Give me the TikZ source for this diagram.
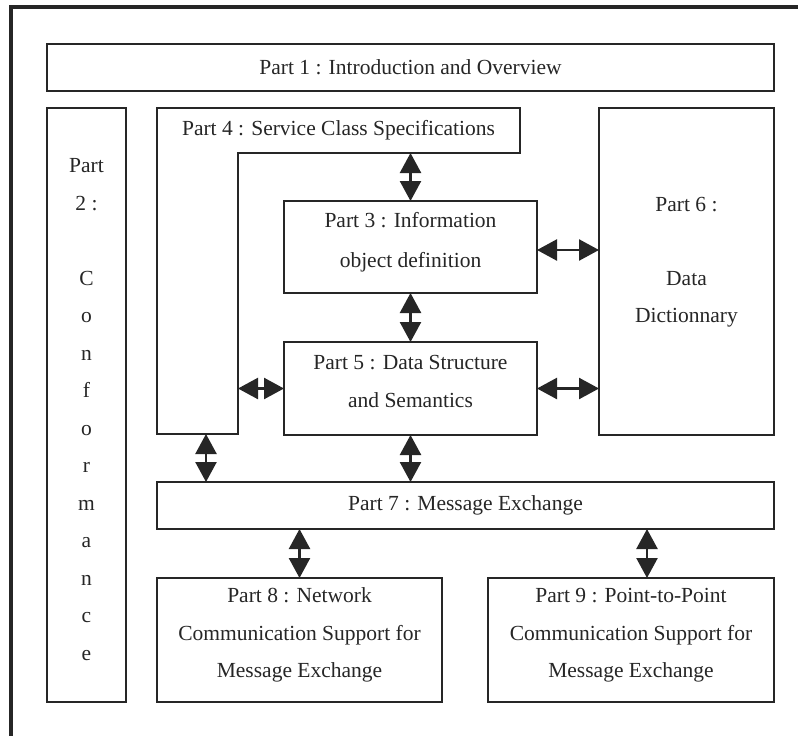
\documentclass[tikz,border=0pt]{standalone}
\usepackage{fontspec}
\setmainfont{Liberation Serif}
\usetikzlibrary{arrows.meta,calc}
\definecolor{ink}{HTML}{262626}
\newcommand{\tp}[1][20pt]{\rule{0pt}{#1}}
\newcommand{\bt}[1][20pt]{\rule[-#1]{0pt}{#1}}
\begin{document}
\begin{tikzpicture}[x=1pt,y=-1pt,
  txt/.style={text=ink, align=center, inner sep=0pt, font=\fontsize{21.5}{38}\selectfont},
  box/.style={txt, draw=ink, line width=1.6pt, outer sep=0pt},
  dbl/.style={draw=ink, line width=2.4pt,
    {Triangle[length=20pt,width=21pt]}-{Triangle[length=20pt,width=21pt]}},
  frame/.style={draw=ink, line width=4pt}]
\useasboundingbox (0,0) rectangle (798,736);
\fill[white] (0,0) rectangle (798,736);
% outer frame (right and bottom edges fall outside the picture)
\draw[frame] (10.5,740) -- (10.5,7) -- (802,7);

% boxes
\node[box, minimum width=727pt, minimum height=47pt] (p1) at (410.5,67.5)
  {Part 1 : Introduction and Overview};
\node[box, minimum width=79pt, minimum height=594pt,
  font=\fontsize{21.5}{37.5}\selectfont] (p2) at (86.5,405)
  {\tp[43pt]Part\\2 :\\~\\C\\o\\n\\f\\o\\r\\m\\a\\n\\c\\e\bt};
\node[box, minimum width=253pt, minimum height=92pt,
  font=\fontsize{21.5}{40}\selectfont] (p3) at (410.5,247)
  {\tp Part 3 : Information\\object definition\bt};
\node[box, minimum width=253pt, minimum height=93pt] (p5) at (410.5,388.5)
  {\tp Part 5 : Data Structure\\and Semantics\bt};
\node[box, minimum width=175pt, minimum height=327pt,
  font=\fontsize{21.5}{36.7}\selectfont] (p6) at (686.5,271.5)
  {\tp Part 6 :\\~\\Data\\Dictionnary\bt[29pt]};
\node[box, minimum width=617pt, minimum height=47pt] (p7) at (465.5,505.5)
  {Part 7 : Message Exchange};
\node[box, minimum width=285pt, minimum height=124pt,
  font=\fontsize{21.5}{37.5}\selectfont] (p8) at (299.5,640)
  {\tp Part 8 : Network\\Communication Support for\\Message Exchange\bt};
\node[box, minimum width=286pt, minimum height=124pt,
  font=\fontsize{21.5}{37.5}\selectfont] (p9) at (631,640)
  {\tp Part 9 : Point-to-Point\\Communication Support for\\Message Exchange\bt};

% Part 4: L-shaped box
\coordinate (c4tl) at (157,108);
\coordinate (c4tr) at (520,108);
\coordinate (c4br) at (520,153);
\coordinate (c4in) at (238,153);
\coordinate (c4ib) at (238,434);
\coordinate (c4bl) at (157,434);
\coordinate (a47) at (206,434);
\draw[draw=ink, line width=1.6pt] (c4tl) -- (c4tr) -- (c4br) -- (c4in) -- (c4ib) -- (c4bl) -- cycle;
\node[txt] (p4) at (338.5,130.5) {Part 4 : Service Class Specifications};

% connectors
\draw[dbl] (p3.north |- c4br) -- (p3.north);
\draw[dbl] (p3.south) -- (p5.north);
\draw[dbl] ([yshift=-3pt]p3.east) -- ([yshift=-3pt]p3.east -| p6.west);
\draw[dbl] (p5.east) -- (p5.east -| p6.west);
\draw[dbl] (p5.west -| c4ib) -- (p5.west);
\draw[dbl] (a47) -- (a47 |- p7.north);
\draw[dbl] (p5.south) -- (p5.south |- p7.north);
\draw[dbl] (p8.north |- p7.south) -- (p8.north);
\draw[dbl] ([xshift=16pt]p9.north |- p7.south) -- ([xshift=16pt]p9.north);
\end{tikzpicture}
\end{document}
